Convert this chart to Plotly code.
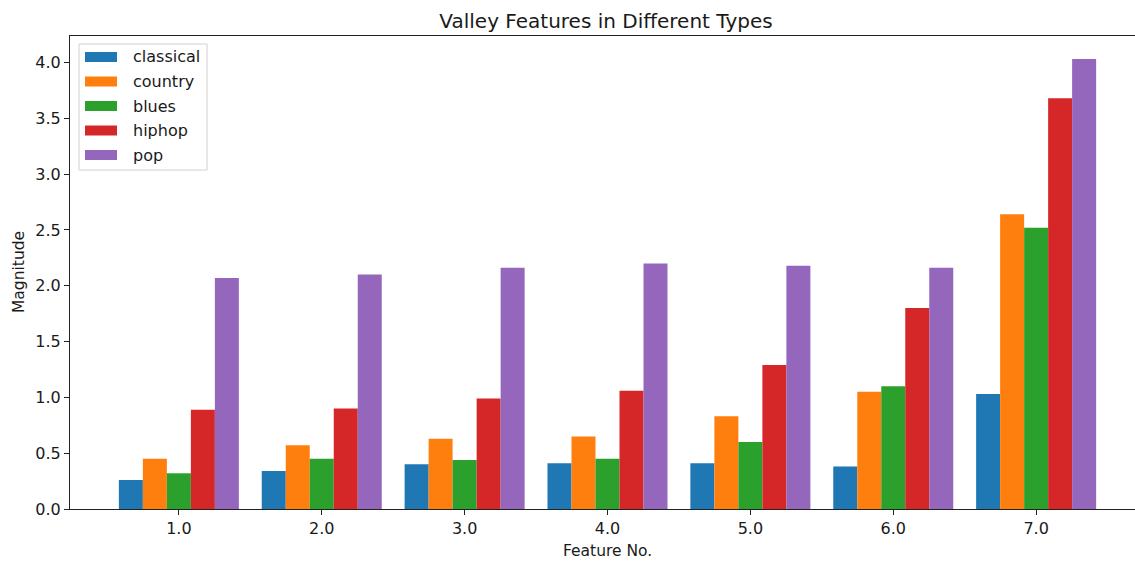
import plotly.graph_objects as go

# Feature index on the x axis
features = [1, 2, 3, 4, 5, 6, 7]

# Valley feature magnitudes per genre
classical = [0.26, 0.34, 0.40, 0.41, 0.41, 0.38, 1.03]
country = [0.45, 0.57, 0.63, 0.65, 0.83, 1.05, 2.64]
blues = [0.32, 0.45, 0.44, 0.45, 0.60, 1.10, 2.52]
hiphop = [0.89, 0.90, 0.99, 1.06, 1.29, 1.80, 3.68]
pop = [2.07, 2.10, 2.16, 2.20, 2.18, 2.16, 4.03]

series_names = ["classical", "country", "blues", "hiphop", "pop"]
series_values = [classical, country, blues, hiphop, pop]
colors = ["#1f77b4", "#ff7f0e", "#2ca02c", "#d62728", "#9467bd"]

y_ticks = [0.0, 0.5, 1.0, 1.5, 2.0, 2.5, 3.0, 3.5, 4.0]

W, H = 1135, 563
# plot area in pixels
L, R, T, B = 70, 1135, 36, 509
PW, PH = R - L, B - T

FONT = "DejaVu Sans"
INK = "#1a1a1a"
FS = 16

fig = go.Figure()
for name, vals, col in zip(series_names, series_values, colors):
    fig.add_trace(go.Bar(
        x=features, y=vals, name=name,
        marker=dict(color=col, line=dict(width=0)),
        showlegend=False,
    ))


def px_x(p):
    return (p - L) / PW


def px_y(p):
    return (B - p) / PH


shapes = []
annotations = []

# legend box
shapes.append(dict(
    type="rect", xref="paper", yref="paper",
    x0=px_x(79), x1=px_x(207), y0=px_y(170), y1=px_y(44),
    line=dict(color="#d0d0d0", width=1), fillcolor="rgba(255,255,255,0.85)",
    layer="above",
))
row0, row_step = 57, 24.5
for i, (name, col) in enumerate(zip(series_names, colors)):
    cy = row0 + i * row_step
    shapes.append(dict(
        type="rect", xref="paper", yref="paper",
        x0=px_x(85), x1=px_x(117), y0=px_y(cy + 5), y1=px_y(cy - 5),
        line=dict(width=0), fillcolor=col, layer="above",
    ))
    annotations.append(dict(
        text=name, xref="paper", yref="paper",
        x=px_x(131), y=px_y(cy), xanchor="left", yanchor="middle",
        showarrow=False, font=dict(family=FONT, size=FS, color=INK),
    ))

# axis titles
annotations.append(dict(
    text="Feature No.", xref="paper", yref="paper",
    x=px_x(607.5), y=px_y(551), xanchor="center", yanchor="middle",
    showarrow=False, font=dict(family=FONT, size=FS - 0.5, color=INK),
))
annotations.append(dict(
    text="Magnitude", xref="paper", yref="paper",
    x=px_x(18.5), y=0.5, xanchor="center", yanchor="middle", textangle=-90,
    showarrow=False, font=dict(family=FONT, size=FS - 0.5, color=INK),
))

fig.update_layout(
    width=W, height=H,
    margin=dict(l=L, r=W - R, t=T, b=H - B, pad=0),
    paper_bgcolor="white", plot_bgcolor="white",
    barmode="group", bargap=0.16, bargroupgap=0,
    font=dict(family=FONT, size=FS, color=INK),
    title=dict(
        text="Valley Features in Different Types",
        x=px_x(606), xref="paper", xanchor="center",
        y=1 - 21 / H, yref="container", yanchor="middle",
        font=dict(family=FONT, size=20, color=INK),
    ),
    xaxis=dict(
        range=[0.238, 7.692], tickvals=features, tickformat=".1f",
        showgrid=False, zeroline=False,
        showline=True, linecolor="#222", linewidth=1, mirror=True,
        ticks="outside", ticklen=5, tickwidth=1, tickcolor="#222",
        tickfont=dict(family=FONT, size=FS, color=INK),
    ),
    yaxis=dict(
        range=[0, 4.237], tickvals=y_ticks, tickformat=".1f",
        showgrid=False, zeroline=False,
        showline=True, linecolor="#222", linewidth=1, mirror=False,
        ticks="outside", ticklen=5, tickwidth=1, tickcolor="#222",
        tickfont=dict(family=FONT, size=FS, color=INK),
    ),
    shapes=shapes,
    annotations=annotations,
)

fig.write_html("out.html")
